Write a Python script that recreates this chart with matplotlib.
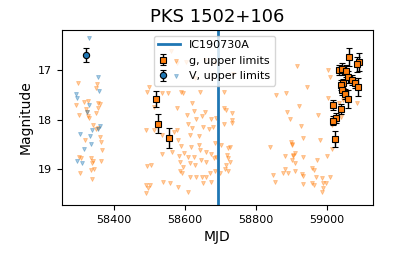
import matplotlib
matplotlib.use("Agg")
import matplotlib.pyplot as plt
from matplotlib.legend_handler import HandlerTuple
import numpy as np

t_nu = 58694.87

# g-band detections
g_mjd = [58520, 58525, 58556, 59063, 59091, 59086, 59033, 59043, 59055, 59060, 59070,
         59080, 59088, 59046, 59041, 59043, 59051, 59058, 59018, 59040, 59026, 59016, 59023]
g_mag = [17.59, 18.08, 18.38, 16.74, 16.84, 16.88, 16.99, 16.98, 17.01, 17.14, 17.20,
         17.26, 17.34, 17.27, 17.30, 17.41, 17.49, 17.59, 17.71, 17.79, 17.96, 18.02, 18.40]
g_err = [0.16, 0.19, 0.20, 0.18, 0.18, 0.15, 0.10, 0.12, 0.12, 0.12, 0.10,
         0.10, 0.18, 0.10, 0.10, 0.10, 0.10, 0.18, 0.10, 0.10, 0.10, 0.10, 0.16]

# V-band detection
v_mjd = [58321]
v_mag = [16.70]
v_err = [0.14]

# g-band upper limits
gul_mjd = [58299, 58352, 58350, 58295, 58316, 58328, 58355, 58361, 58321, 58324, 58357, 58301,
           58351, 58327, 58330, 58343, 58351, 58355, 58361, 58318, 58364, 58366, 58302, 58307,
           58336, 58341, 58338, 58363, 58344, 58336, 58305, 58338,
           58499, 58494, 58537, 58552, 58595, 58620, 58514, 58579, 58626, 58657, 58605, 58633,
           58649, 58608, 58619, 58652, 58673, 58689, 58492, 58513, 58570, 58581, 58616, 58577,
           58537, 58639, 58667, 58679, 58589, 58618, 58640, 58685, 58537, 58565, 58584, 58597,
           58608, 58626, 58642, 58661, 58673, 58682, 58586, 58595, 58614, 58628, 58647, 58661,
           58494, 58506, 58586, 58592, 58614, 58633, 58648, 58661, 58670, 58492, 58496, 58490,
           58501, 58539, 58558, 58581, 58609, 58652, 58675, 58685, 58689,
           58561, 58577, 58603, 58656, 58685, 58628, 58642, 58589,
           58710, 58711, 58715, 58732, 58711, 58733, 58732, 58703, 58727, 58722, 58720, 58722,
           58727, 58717, 58713, 58722, 58699, 58858, 58886, 58889, 58896, 58841, 58902, 58905,
           58882, 58849, 58854, 58877, 58882, 58891, 58736,
           58916, 59004, 58943, 59008, 58922, 58976, 58926, 59004, 59046, 59084, 59013, 58932,
           58982, 58900, 58903, 58910, 58905, 58903, 58910, 58933, 58971, 59001, 59013, 59023,
           58910, 58929, 58932, 58957, 58963, 58969, 58985, 59008, 58957, 58963, 58990, 58997,
           58988, 58985, 58933, 59035, 59041]
gul_mag = [17.27, 17.29, 17.36, 17.70, 17.65, 17.62, 17.66, 17.69, 17.78, 17.84, 17.77, 17.90,
           17.87, 17.92, 17.96, 18.12, 18.19, 18.17, 18.36, 18.41, 18.45, 18.62, 18.75, 18.78,
           18.78, 18.83, 18.87, 18.84, 19.01, 19.02, 19.09, 19.20,
           17.35, 17.44, 17.47, 17.47, 17.46, 17.66, 17.75, 17.77, 17.82, 17.85, 17.90, 17.98,
           17.92, 18.08, 18.17, 18.15, 17.98, 17.96, 18.21, 18.21, 18.26, 18.41, 18.31, 18.21,
           18.32, 18.33, 18.19, 18.15, 18.54, 18.56, 18.52, 18.48, 18.70, 18.66, 18.74, 18.68,
           18.75, 18.75, 18.62, 18.65, 18.70, 18.78, 18.85, 18.95, 18.88, 18.92, 18.82, 18.85,
           18.94, 18.92, 19.05, 19.09, 19.16, 19.16, 19.16, 19.17, 19.09, 19.32, 19.39, 19.49,
           19.32, 19.26, 19.29, 19.36, 19.46, 19.29, 19.26, 19.05, 18.75,
           16.62, 16.86, 16.84, 16.80, 16.86, 17.16, 17.44, 17.44,
           17.44, 17.77, 17.81, 17.86, 18.08, 18.01, 18.06, 18.52, 18.56, 18.58, 18.72, 18.78,
           18.85, 18.92, 18.99, 19.05, 19.09, 17.51, 17.46, 17.84, 17.98, 18.56, 18.50, 18.72,
           18.74, 19.12, 19.26, 19.09, 19.01, 19.09, 17.07,
           16.92, 16.99, 17.34, 17.14, 17.73, 17.91, 18.13, 17.57, 17.61, 17.66, 18.11, 18.38,
           18.41, 18.45, 18.52, 18.68, 18.74, 18.82, 18.88, 18.75, 18.82, 18.74, 18.60, 18.45,
           19.05, 19.10, 19.14, 18.97, 19.02, 19.16, 19.19, 19.16, 19.29, 19.32, 19.29, 19.29,
           19.39, 19.46, 19.30, 17.67, 17.94]

# V-band upper limits
vul_mjd = [58330, 58355, 58358, 58293, 58296, 58330, 58324, 58339, 58361, 58357, 58304, 58332,
           58337, 58315, 58298, 58310]
vul_mag = [16.35, 17.14, 17.42, 17.49, 17.57, 17.70, 17.84, 18.21, 18.13, 18.19, 18.30, 18.34,
           18.49, 18.59, 18.84, 18.88]

fig = plt.figure(figsize=(4.15, 2.57), dpi=100)
ax = fig.add_axes([0.149, 0.202, 0.750, 0.681])

line = ax.axvline(t_nu, color="C0", lw=2, label="IC190730A")
s_g = ax.scatter(gul_mjd, gul_mag, marker="v", s=8, color="C1", alpha=0.4, lw=0.6)
s_v = ax.scatter(vul_mjd, vul_mag, marker="v", s=8, color="C0", alpha=0.4, lw=0.6)
e_g = ax.errorbar(g_mjd, g_mag, yerr=g_err, fmt="s", ms=4.5, color="C1", mec="k", mew=0.8,
                  ecolor="k", elinewidth=1, capsize=2.5, zorder=5)
e_v = ax.errorbar(v_mjd, v_mag, yerr=v_err, fmt="o", ms=4.5, color="C0", mec="k", mew=0.8,
                  ecolor="k", elinewidth=1, capsize=2.5, zorder=5)

ax.set_xlim(58254, 59130)
ax.set_ylim(19.73, 16.19)
ax.set_xticks([58400, 58600, 58800, 59000])
ax.set_yticks([17, 18, 19])
ax.tick_params(labelsize=8)
ax.set_xlabel("MJD", fontsize=10)
ax.set_ylabel("Magnitude", fontsize=10)
ax.set_title("PKS 1502+106", fontsize=13)

ax.legend([line, (e_g, s_g), (e_v, s_v)],
          ["IC190730A", "g, upper limits", "V, upper limits"],
          handler_map={tuple: HandlerTuple(ndivide=None)},
          loc="upper center", fontsize=8, bbox_to_anchor=(0.49, 1.0))

fig.savefig("out.png", dpi=100)
